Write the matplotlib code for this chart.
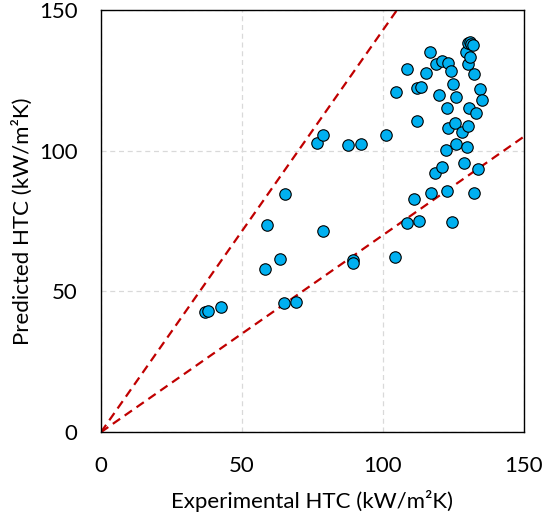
# Predicted vs experimental HTC parity plot
import matplotlib.pyplot as plt

plt.rcParams['font.family'] = ['Lato', 'DejaVu Sans']

# experimental HTC (kW/m2K)
exp_htc = [36.9, 38.0, 42.6, 64.9, 69.1, 58.0, 63.4, 58.7, 65.2, 78.6,
           76.5, 78.6, 87.7, 92.2, 89.3, 89.5, 101.2, 104.3, 104.5, 108.6,
           108.4, 111.0, 111.9, 112.2, 113.5, 112.9, 115.1, 116.6, 117.1, 118.6,
           118.9, 120.0, 120.8, 121.0, 122.3, 122.7, 122.8, 122.9, 123.2, 124.1,
           124.4, 124.9, 125.5, 125.8, 125.8, 127.9, 128.9, 129.4, 129.7, 130.0,
           130.0, 130.3, 130.4, 130.9, 130.9, 131.2, 132.0, 132.2, 132.3, 133.0,
           133.7, 134.5, 135.1]
# predicted HTC (kW/m2K)
pred_htc = [42.8, 43.0, 44.3, 46.0, 46.3, 57.9, 61.5, 73.7, 84.5, 71.3,
            102.8, 105.7, 102.0, 102.3, 61.1, 60.0, 105.7, 62.3, 120.7, 128.9,
            74.4, 82.9, 110.4, 122.3, 122.5, 75.1, 127.4, 135.1, 85.1, 92.2,
            130.8, 119.7, 94.3, 131.9, 100.2, 85.8, 115.2, 108.0, 131.3, 128.4,
            74.5, 123.8, 109.7, 119.2, 102.4, 106.5, 95.5, 135.0, 101.4, 130.8,
            108.8, 138.1, 115.1, 138.5, 133.1, 137.9, 137.6, 85.1, 127.2, 113.4,
            93.5, 122.0, 118.0]

# +/-30 % band lines
band_x = [0, 150]
upper_y = [0, 150 / 0.7]
lower_y = [0, 150 * 0.7]

fig = plt.figure(figsize=(5.43, 5.20), dpi=100)
ax = fig.add_axes([0.186, 0.169, 0.779, 0.812])

ax.plot(band_x, upper_y, color='#C00000', lw=1.6, dashes=(4, 2.5), zorder=2)
ax.plot(band_x, lower_y, color='#C00000', lw=1.6, dashes=(4, 2.5), zorder=2)

ax.scatter(exp_htc, pred_htc, s=68, c='#00B0F0', edgecolors='black',
           linewidths=0.8, zorder=3)

ax.set_xlim(0, 150)
ax.set_ylim(0, 150)
ax.set_xticks([0, 50, 100, 150])
ax.set_yticks([0, 50, 100, 150])
ax.grid(True, color='#D9D9D9', linestyle=(0, (4, 3)), lw=0.9, zorder=0)
ax.set_axisbelow(True)

for sp in ax.spines.values():
    sp.set_color('black')
    sp.set_linewidth(1.0)

ax.tick_params(axis='both', length=0, labelsize=16, colors='black')
ax.tick_params(axis='x', pad=17)
ax.tick_params(axis='y', pad=17)

ax.set_xlabel('Experimental HTC (kW/m²K)', fontsize=16, labelpad=10)
ax.set_ylabel('Predicted HTC (kW/m²K)', fontsize=16, labelpad=4)

plt.savefig('out.png', dpi=100)
